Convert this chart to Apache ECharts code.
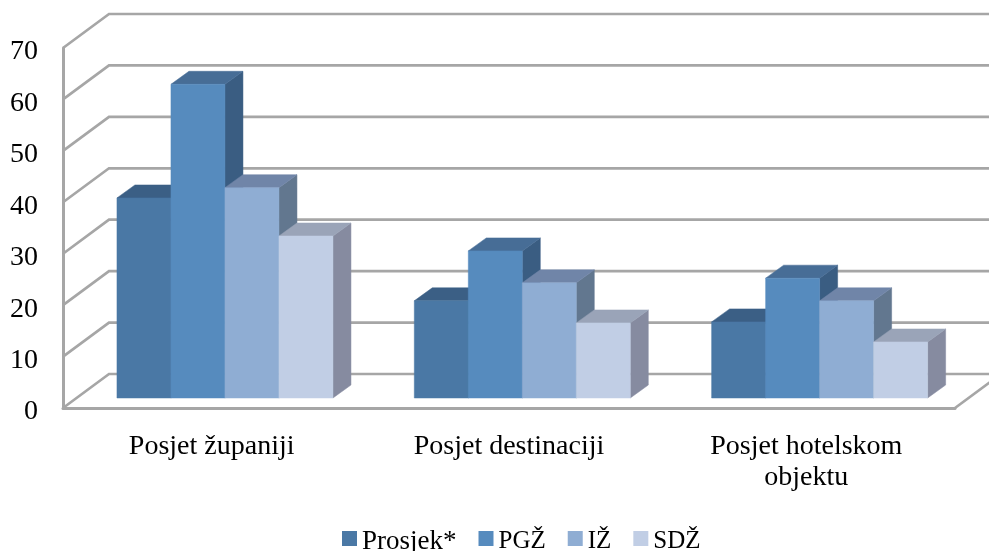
<!DOCTYPE html>
<html>
<head>
<meta charset="utf-8">
<style>html,body{margin:0;padding:0;background:#fff}#c{width:989px;height:551px}</style>
<script src="https://cdn.jsdelivr.net/npm/echarts@6/dist/echarts.min.js"></script>
</head>
<body>
<div id="c"></div>
<script>
const categories = ['Posjet županiji', 'Posjet destinaciji', 'Posjet hotelskom\nobjektu'];
const tickValues = [0, 10, 20, 30, 40, 50, 60, 70];
const prosjek = [38.9, 18.9, 14.8];
const pgz = [61, 28.6, 23.3];
const iz = [40.9, 22.4, 18.9];
const sdz = [31.5, 14.6, 10.9];

const FONT = '"Liberation Serif", serif';
const LINE = '#A6A6A6';
const WALL_DX = 46, WALL_DY = -34;
const BAR_DX = 18, BAR_DY = -13;
const FLOOR_DX = 13.3, FLOOR_DY = -10;
const BAR_W = 54;

const chart = echarts.init(document.getElementById('c'), null, {renderer: 'canvas'});

function wallItem(params, api) {
  const v = api.value(0);
  const cs = params.coordSys;
  const y = api.coord([0, v])[1];
  const x0 = cs.x, x1 = cs.x + cs.width;
  const pts = [[x0, y], [x0 + WALL_DX, y + WALL_DY], [x1 + WALL_DX, y + WALL_DY]];
  const children = [{
    type: 'polyline', shape: {points: pts},
    style: {stroke: LINE, lineWidth: 2.7, fill: null}
  }];
  if (v === 0) {
    children.push({
      type: 'line',
      shape: {x1: x1, y1: y, x2: x1 + WALL_DX, y2: y + WALL_DY},
      style: {stroke: LINE, lineWidth: 2.7}
    });
  }
  return {type: 'group', children};
}

function barRenderer(slot, colors) {
  return function (params, api) {
    const cat = api.value(0), val = api.value(1);
    const cx = api.coord([cat, 0])[0] + FLOOR_DX;
    const left = cx - 2 * BAR_W + slot * BAR_W, right = left + BAR_W;
    const base = api.coord([cat, 0])[1] + FLOOR_DY;
    const top = api.coord([cat, val])[1] + FLOOR_DY;
    const poly = (points, fill) => ({
      type: 'polygon', shape: {points},
      style: {fill, stroke: fill, lineWidth: 0.5}
    });
    return {type: 'group', children: [
      poly([[right, base], [right + BAR_DX, base + BAR_DY], [right + BAR_DX, top + BAR_DY], [right, top]], colors.side),
      poly([[left, top], [right, top], [right + BAR_DX, top + BAR_DY], [left + BAR_DX, top + BAR_DY]], colors.top),
      poly([[left, base], [right, base], [right, top], [left, top]], colors.front)
    ]};
  };
}

const barDefs = [
  {name: 'Prosjek*', key: 'big', values: prosjek, colors: {front: '#4A78A5', top: '#3B5F85', side: '#3A5D82'}},
  {name: 'PGŽ', key: 'small', values: pgz, colors: {front: '#568BBE', top: '#476D96', side: '#3A5D82'}},
  {name: 'IŽ', key: 'small', values: iz, colors: {front: '#8FADD3', top: '#7085A8', side: '#62778F'}},
  {name: 'SDŽ', key: 'small', values: sdz, colors: {front: '#C1CEE5', top: '#9AA4B8', side: '#868BA0'}}
];

chart.setOption({
  animation: false,
  backgroundColor: '#fff',
  textStyle: {fontFamily: FONT},
  legend: {
    data: barDefs.map(d => d.name),
    left: 342, top: 528, padding: 0,
    itemWidth: 15, itemHeight: 15, itemGap: 22,
    icon: 'rect',
    formatter: name => '{' + barDefs.find(d => d.name === name).key + '|' + name + '}',
    textStyle: {
      fontFamily: FONT, fontSize: 26, color: '#000',
      rich: {
        big: {fontFamily: FONT, fontSize: 27, color: '#000', padding: [6, 0, 0, 0]},
        small: {fontFamily: FONT, fontSize: 25, color: '#000', padding: [6, 0, 0, 0]}
      }
    },
    selectedMode: false
  },
  grid: {left: 63, right: 34, top: 48, bottom: 143, containLabel: false},
  xAxis: {
    type: 'category', data: categories,
    axisLine: {show: true, lineStyle: {color: LINE, width: 3}},
    axisTick: {show: false},
    axisLabel: {fontFamily: FONT, fontSize: 28, color: '#000', margin: 23, lineHeight: 31, interval: 0}
  },
  yAxis: {
    type: 'value', min: 0, max: 70, interval: 10,
    axisLine: {show: true, lineStyle: {color: LINE, width: 3}},
    axisTick: {show: false},
    splitLine: {show: false},
    axisLabel: {
      margin: 25,
      formatter: '{t|{value}}',
      rich: {t: {fontFamily: FONT, fontSize: 28, color: '#000', padding: [8, 0, 0, 0]}}
    }
  },
  series: [
    {type: 'custom', name: 'walls', silent: true, z: 1, clip: false,
     renderItem: wallItem, data: tickValues.map(v => [v]), encode: {y: 0}},
    ...barDefs.map((d, slot) => ({
      type: 'custom', name: d.name, z: 2 + slot, clip: false,
      itemStyle: {color: d.colors.front},
      renderItem: barRenderer(slot, d.colors),
      encode: {x: 0, y: 1},
      data: d.values.map((v, i) => [i, v])
    }))
  ]
});
</script>
</body>
</html>
